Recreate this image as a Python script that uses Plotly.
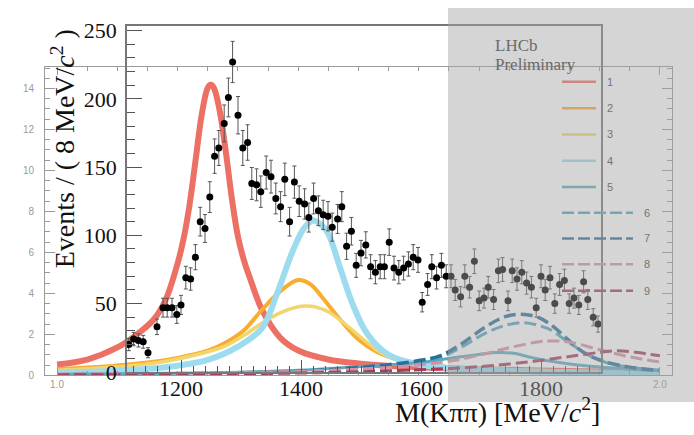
import plotly.graph_objects as go

W, H = 694, 435

# ---------------- data (black frame, MeV / events) ----------------
mass = [1113,1121,1129,1137,1145,1160,1170,1177,1185,1193,1200,1208,1216,1224,1232,1240,1248,1256,1263,1272,
        1279,1286,1295,1303,1311,1318,1326,1333,1342,1350,1358,1366,1373,1381,1389,1397,1406,1413,1421,1429,
        1437,1445,1452,1461,1468,1476,1484,1492,1500,1508,1516,1524,1532,1539,1547,1555,1563,1571,1579,1587,
        1595,1602,1611,1618,1626,1634,1642,1650,1657,1666,1673,1681,1689,1697,1705,1712,1721,1729,1736,1745,
        1752,1760,1768,1776,1784,1792,1800,1807,1815,1823,1831,1839,1847,1855,1863,1871,1878,1887,1895]
events = [20,24,23,22,14,33,47,47,47,42,49,69,68,84,110,105,128,158,164,182,
          201,227,188,164,168,138,137,132,146,143,127,121,141,110,139,125,123,113,127,118,
          115,114,106,112,121,92,103,78,87,93,77,73,77,77,95,76,73,76,79,84,
          82,51,64,77,69,78,70,70,60,55,70,62,81,52,54,62,53,74,75,52,
          74,68,73,65,62,47,70,60,69,50,64,67,50,54,49,66,53,40,35]
errors = [4.5,4.9,4.8,4.7,3.7,5.7,6.9,6.9,6.9,6.5,7.0,8.3,8.2,9.2,10.5,10.2,11.3,12.6,12.8,13.5,
          14.2,15.1,13.7,12.8,13.0,11.7,11.7,11.5,12.1,12.0,11.3,11.0,11.9,10.5,11.8,11.2,11.1,10.6,11.3,10.9,
          10.7,10.7,10.3,10.6,11.0,9.6,10.1,8.8,9.3,9.6,8.8,8.5,8.8,8.8,9.7,8.7,8.5,8.7,8.9,9.2,
          9.1,7.1,8.0,8.8,8.3,8.8,8.4,8.4,7.7,7.4,8.4,7.9,9.0,7.2,7.3,7.9,7.3,8.6,8.7,7.2,
          8.6,8.2,8.5,8.1,7.9,6.9,8.4,7.7,8.3,7.1,8.0,8.2,7.1,7.3,7.0,8.1,7.3,6.3,5.9]

# ---------------- model components (grey frame, GeV / arbitrary) ----------------
c1_x = [1.00,1.05,1.10,1.13,1.16,1.18,1.20,1.21,1.22,1.23,1.24,1.25,1.255,1.26,1.27,1.28,1.29,1.30,1.31,1.32,1.34,1.37,1.40,1.45,1.50,1.60,1.70,1.80,1.90,2.00]
c1_y = [0.53,0.77,1.36,1.94,2.71,3.68,5.47,6.68,8.37,10.55,12.73,14.04,14.18,14.04,12.87,10.89,8.62,6.78,5.61,4.74,3.19,1.84,1.21,0.77,0.58,0.39,0.29,0.24,0.19,0.15]
c2_x = [1.00,1.05,1.10,1.15,1.20,1.25,1.28,1.31,1.34,1.37,1.40,1.42,1.44,1.47,1.50,1.53,1.56,1.60,1.65,1.70,1.80,1.90,2.00]
c2_y = [0.30,0.38,0.48,0.62,0.85,1.2,1.6,2.2,3.2,4.1,4.65,4.45,3.8,2.7,1.75,1.15,0.8,0.55,0.4,0.32,0.22,0.17,0.14]
c3_x = [1.00,1.05,1.10,1.15,1.20,1.25,1.28,1.31,1.34,1.37,1.40,1.414,1.43,1.45,1.48,1.51,1.54,1.57,1.60,1.65,1.70,1.80,1.90,2.00]
c3_y = [0.25,0.32,0.42,0.55,0.8,1.15,1.45,1.95,2.55,3.05,3.35,3.38,3.33,3.1,2.45,1.7,1.05,0.72,0.55,0.42,0.33,0.23,0.17,0.14]
c4_x = [1.00,1.10,1.20,1.25,1.30,1.34,1.365,1.39,1.41,1.425,1.44,1.45,1.47,1.49,1.515,1.55,1.60,1.65,1.70,1.80,1.90,2.00]
c4_y = [0.15,0.22,0.47,0.75,1.4,2.3,4.0,6.0,7.2,7.56,7.3,6.9,5.2,3.5,2.0,1.0,0.53,0.37,0.28,0.18,0.12,0.08]
c5_x = [1.00,1.20,1.30,1.40,1.50,1.55,1.60,1.65,1.70,1.73,1.76,1.78,1.80,1.85,1.90,1.95,2.00]
c5_y = [0.05,0.1,0.15,0.25,0.42,0.5,0.62,0.82,1.02,1.11,1.06,0.92,0.78,0.55,0.4,0.3,0.22]
c6_x = [1.00,1.20,1.30,1.40,1.45,1.50,1.55,1.60,1.635,1.67,1.71,1.745,1.776,1.80,1.82,1.845,1.884,1.92,1.96,2.00]
c6_y = [0.03,0.07,0.12,0.2,0.27,0.37,0.5,0.68,0.87,1.36,2.05,2.45,2.57,2.42,2.2,1.68,0.95,0.55,0.36,0.26]
c7_x = [1.00,1.20,1.30,1.40,1.45,1.50,1.55,1.60,1.635,1.67,1.71,1.745,1.776,1.80,1.82,1.84,1.86,1.88,1.91,1.95,2.00]
c7_y = [0.03,0.07,0.12,0.2,0.27,0.38,0.52,0.72,0.95,1.52,2.35,2.88,2.97,2.8,2.45,1.95,1.4,1.0,0.65,0.4,0.23]
c8_x = [1.00,1.10,1.20,1.30,1.40,1.50,1.55,1.60,1.65,1.70,1.75,1.80,1.82,1.85,1.90,1.95,2.00]
c8_y = [0.06,0.08,0.1,0.14,0.2,0.3,0.38,0.5,0.68,0.98,1.35,1.64,1.68,1.62,1.25,0.9,0.65]
c9_x = [1.00,1.20,1.30,1.40,1.50,1.55,1.60,1.65,1.70,1.75,1.80,1.85,1.90,1.93,1.96,2.00]
c9_y = [0.02,0.04,0.07,0.11,0.17,0.22,0.27,0.33,0.42,0.55,0.72,0.92,1.12,1.2,1.12,0.95]

comp_labels = ["1","2","3","4","5","6","7","8","9"]
comp_colors = ["#ec7063","#fbab2e","#f2d56b","#9ddbee","#5ea9c0","#52a7c2","#2e6f9a","#d492a4","#a1405f"]
comp_widths = [6,4,3.5,6,3,3,3.5,3,3]
comp_dash = ["solid"]*5 + ["12px,5px"]*4
comps = [(c1_x,c1_y),(c2_x,c2_y),(c3_x,c3_y),(c4_x,c4_y),(c5_x,c5_y),
         (c6_x,c6_y),(c7_x,c7_y),(c8_x,c8_y),(c9_x,c9_y)]

def px(x):
    return x / W

def py(y):
    # target pixel row (from top) -> paper fraction, compensating the vertical squeeze seen in rendering
    yl = (y - 7.5) / 0.96
    return min(1.0, max(0.0, 1 - yl / H))

fig = go.Figure()

for (cx, cy), col, w, d in zip(comps, comp_colors, comp_widths, comp_dash):
    fig.add_trace(go.Scatter(x=cx, y=cy, mode="lines", line=dict(color=col, width=w, dash=d, shape="spline"),
                             xaxis="x", yaxis="y", showlegend=False, hoverinfo="skip"))

fig.add_trace(go.Scatter(x=mass, y=events, mode="markers",
                         marker=dict(color="black", size=7),
                         error_y=dict(type="data", array=errors, color="#555555", thickness=1, width=2),
                         xaxis="x2", yaxis="y2", showlegend=False))

grey = "#9a9a9a"
fig.update_layout(
    width=W, height=H, autosize=False,
    margin=dict(l=0, r=0, t=0, b=0),
    paper_bgcolor="white", plot_bgcolor="rgba(0,0,0,0)",
    showlegend=False,
    xaxis=dict(domain=[px(45), px(672)], range=[0.98, 2.02], anchor="y",
               tickvals=[1.0, 2.0], ticktext=["1.0", "2.0"],
               ticks="inside", ticklen=8, tickcolor=grey, mirror="ticks",
               showline=True, linecolor=grey, linewidth=1, showgrid=False, zeroline=False,
               minor=dict(dtick=0.05, tick0=1.0, ticks="inside", ticklen=4, tickcolor=grey),
               tickfont=dict(family="Liberation Sans", size=10, color=grey)),
    yaxis=dict(domain=[py(378), py(67)], range=[0, 15.05], anchor="x",
               tick0=0, dtick=2, ticks="inside", ticklen=10, tickcolor=grey, mirror="ticks",
               showline=True, linecolor=grey, linewidth=1, showgrid=False, zeroline=False,
               minor=dict(dtick=0.5, ticks="inside", ticklen=5, tickcolor=grey),
               ticklabelstandoff=8,
               tickfont=dict(family="Liberation Sans", size=10, color=grey)),
    xaxis2=dict(domain=[px(127), px(601)], range=[1110, 1900], anchor="y2",
                tickvals=[1200, 1400, 1600, 1800], ticks="inside", ticklen=12, tickcolor="#555555",
                showline=True, linecolor="#777777", linewidth=1.5, mirror=True,
                showgrid=False, zeroline=False,
                minor=dict(dtick=20, tick0=1100, ticks="inside", ticklen=6, tickcolor="#555555"),
                ticklabelstandoff=-4,
                tickfont=dict(family="Liberation Serif", size=22, color="#111111")),
    yaxis2=dict(domain=[py(374.5), py(26)], range=[0, 253.1], anchor="x2",
                tick0=0, dtick=50, ticks="inside", ticklen=15, tickcolor="#555555",
                showline=True, linecolor="#777777", linewidth=1.5, mirror=True,
                showgrid=False, zeroline=False,
                minor=dict(dtick=10, ticks="inside", ticklen=8, tickcolor="#555555"),
                ticklabelstandoff=4,
                tickfont=dict(family="Liberation Serif", size=22, color="#111111")),
)

shapes = []
annotations = []
leg_y = [82, 108.7, 135, 161.7, 188, 214, 240, 266, 292.7]
for i, lab in enumerate(comp_labels):
    x1 = 596 if i < 5 else 633
    lx = 610 if i < 5 else 647
    shapes.append(dict(type="line", xref="paper", yref="paper", layer="above",
                       x0=px(562), x1=px(x1), y0=py(leg_y[i]), y1=py(leg_y[i]),
                       line=dict(color=comp_colors[i], width=2.5,
                                 dash="solid" if i < 5 else "12px,4px")))
    annotations.append(dict(text=lab, xref="paper", yref="paper", x=px(lx), y=py(leg_y[i]),
                            xanchor="center", yanchor="middle", showarrow=False,
                            font=dict(family="Liberation Sans", size=11, color="#747474")))

# translucent grey panel covering the right part
shapes.append(dict(type="rect", xref="paper", yref="paper", layer="above",
                   x0=px(448), x1=1.0, y0=py(405), y1=py(4),
                   fillcolor="rgba(163,163,163,0.46)", line=dict(width=0)))

annotations += [
    dict(text="LHCb", xref="paper", yref="paper", x=px(493), y=py(45), xanchor="left", yanchor="middle",
         showarrow=False, font=dict(family="Liberation Serif", size=17, color="#6b6b6b")),
    dict(text="Preliminary", xref="paper", yref="paper", x=px(493), y=py(64), xanchor="left", yanchor="middle",
         showarrow=False, font=dict(family="Liberation Serif", size=17, color="#6b6b6b")),
    dict(text="Events / ( 8 MeV/<i>c</i><sup>2</sup> )", xref="paper", yref="paper", x=px(63), y=py(150),
         xanchor="center", yanchor="middle", textangle=-90, showarrow=False,
         font=dict(family="Liberation Serif", size=28, color="#111111")),
    dict(text="M(Kππ) [MeV/<i>c</i><sup>2</sup>]", xref="paper", yref="paper", x=px(497), y=1 - 422.5 / H,
         xanchor="center", yanchor="middle", showarrow=False,
         font=dict(family="Liberation Serif", size=28, color="#111111")),
]
fig.update_layout(shapes=shapes, annotations=annotations)

fig.write_html("out.html")
